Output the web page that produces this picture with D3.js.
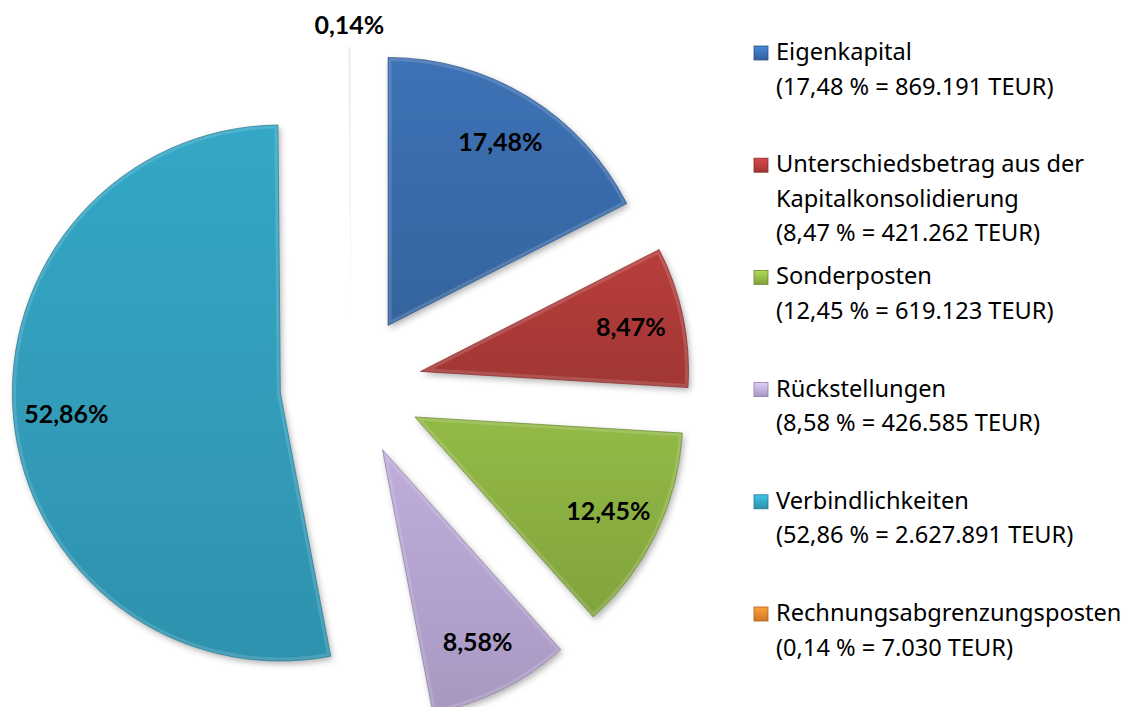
<!DOCTYPE html>
<html>
<head>
<meta charset="utf-8">
<script src="https://cdn.jsdelivr.net/npm/d3@7"></script>
<style>
  body { margin: 0; background: #fff; }
  svg { display: block; }
</style>
</head>
<body>
<svg width="1128" height="707"></svg>
<script>
var categories = ["Eigenkapital", "Unterschiedsbetrag aus der Kapitalkonsolidierung", "Sonderposten",
                  "Rückstellungen", "Verbindlichkeiten", "Rechnungsabgrenzungsposten"];
var percents = [17.48, 8.47, 12.45, 8.58, 52.86, 0.14];
var amounts = ["869.191", "421.262", "619.123", "426.585", "2.627.891", "7.030"];
var legendLines = [
  ["Eigenkapital"],
  ["Unterschiedsbetrag aus der", "Kapitalkonsolidierung"],
  ["Sonderposten"],
  ["Rückstellungen"],
  ["Verbindlichkeiten"],
  ["Rechnungsabgrenzungsposten"]
];
var colors = ["#3a6dae", "#b03b39", "#8db243", "#b7a6d3", "#32a0be", "#e8832d"];

var svg = d3.select("svg"),
    cx = 351, cy = 386,
    radius = 268,
    explode = 71;

var fmt = function(v) { return d3.format(".2f")(v).replace(".", ","); };

var data = categories.map(function(c, i) { return {name: c, value: percents[i], i: i}; });

var pie = d3.pie()
    .sort(null)
    .value(function(d) { return d.value; });

var arcs = pie(data);

var arc = d3.arc().innerRadius(0).outerRadius(radius);
var labelArc = d3.arc().innerRadius(215).outerRadius(215);
var outerLabelArc = d3.arc().innerRadius(290).outerRadius(290);

var defs = svg.append("defs");

var shadow = defs.append("filter")
    .attr("id", "shadow")
    .attr("x", "-20%").attr("y", "-20%")
    .attr("width", "140%").attr("height", "140%");
shadow.append("feDropShadow")
    .attr("dx", 2).attr("dy", 3)
    .attr("stdDeviation", 3)
    .attr("flood-color", "#000")
    .attr("flood-opacity", 0.3);

colors.forEach(function(c, i) {
  var g = defs.append("linearGradient")
      .attr("id", "grad" + i)
      .attr("x1", 0).attr("y1", 0).attr("x2", 0).attr("y2", 1);
  g.append("stop").attr("offset", "0%").attr("stop-color", d3.color(c).brighter(0.12));
  g.append("stop").attr("offset", "100%").attr("stop-color", d3.color(c).darker(0.25));

  var m = defs.append("linearGradient")
      .attr("id", "mgrad" + i)
      .attr("x1", 0).attr("y1", 0).attr("x2", 0).attr("y2", 1);
  m.append("stop").attr("offset", "0%").attr("stop-color", d3.color(c).brighter(0.6));
  m.append("stop").attr("offset", "100%").attr("stop-color", d3.color(c).darker(0.3));
});

function offset(d) {
  var a = (d.startAngle + d.endAngle) / 2;
  return [cx + explode * Math.sin(a), cy - explode * Math.cos(a)];
}

var slices = svg.append("g")
  .selectAll("g")
  .data(arcs)
  .enter().append("g")
    .attr("transform", function(d) { return "translate(" + offset(d) + ")"; });

slices.append("clipPath")
    .attr("id", function(d) { return "clip" + d.index; })
  .append("path")
    .attr("d", arc);

slices.append("path")
    .attr("d", arc)
    .attr("fill", function(d) { return d.data.value < 1 ? "#ddd" : "url(#grad" + d.index + ")"; })
    .attr("fill-opacity", function(d) { return d.data.value < 1 ? 0.5 : 1; })
    .attr("filter", function(d) { return d.data.value < 1 ? null : "url(#shadow)"; });

// bevel: light inner rim, dark outline
slices.filter(function(d) { return d.data.value >= 1; })
  .append("path")
    .attr("d", arc)
    .attr("fill", "none")
    .attr("stroke", "#fff")
    .attr("stroke-opacity", 0.14)
    .attr("stroke-width", 7)
    .attr("clip-path", function(d) { return "url(#clip" + d.index + ")"; });

slices.filter(function(d) { return d.data.value >= 1; })
  .append("path")
    .attr("d", arc)
    .attr("fill", "none")
    .attr("stroke", function(d) { return d3.color(colors[d.index]).darker(0.8); })
    .attr("stroke-opacity", 0.7)
    .attr("stroke-width", 1);

slices.append("text")
    .attr("transform", function(d) {
      var p = d.data.value < 1 ? outerLabelArc.centroid(d) : labelArc.centroid(d);
      return "translate(" + p + ")";
    })
    .attr("text-anchor", "middle")
    .attr("dy", "0.36em")
    .style("font-family", "Lato, 'Open Sans', sans-serif")
    .style("font-weight", "bold")
    .style("font-size", "25px")
    .attr("fill", "#000")
    .text(function(d) { return fmt(d.data.value) + "%"; });

// legend
var legendX = 754, legendTop = 52, legendStep = 112.2, lineH = 34.5;

var legend = svg.append("g")
  .selectAll("g")
  .data(data)
  .enter().append("g")
    .attr("transform", function(d, i) { return "translate(" + legendX + "," + (legendTop + i * legendStep) + ")"; });

legend.append("rect")
    .attr("x", 0).attr("y", -6)
    .attr("width", 14).attr("height", 14)
    .attr("fill", function(d) { return "url(#mgrad" + d.i + ")"; })
    .attr("stroke", function(d) { return d3.color(colors[d.i]).darker(0.8); })
    .attr("stroke-width", 0.8);

legend.append("text")
    .attr("x", 22)
    .attr("y", 8)
    .style("font-family", "'Noto Sans', sans-serif")
    .style("font-size", "23.6px")
    .attr("fill", "#000")
    .selectAll("tspan")
    .data(function(d) {
      return legendLines[d.i].concat(["(" + fmt(d.value) + " % = " + amounts[d.i] + " TEUR)"]);
    })
    .enter().append("tspan")
      .attr("x", 22)
      .attr("dy", function(d, j) { return j === 0 ? 0 : lineH; })
      .text(function(d) { return d; });
</script>
</body>
</html>
